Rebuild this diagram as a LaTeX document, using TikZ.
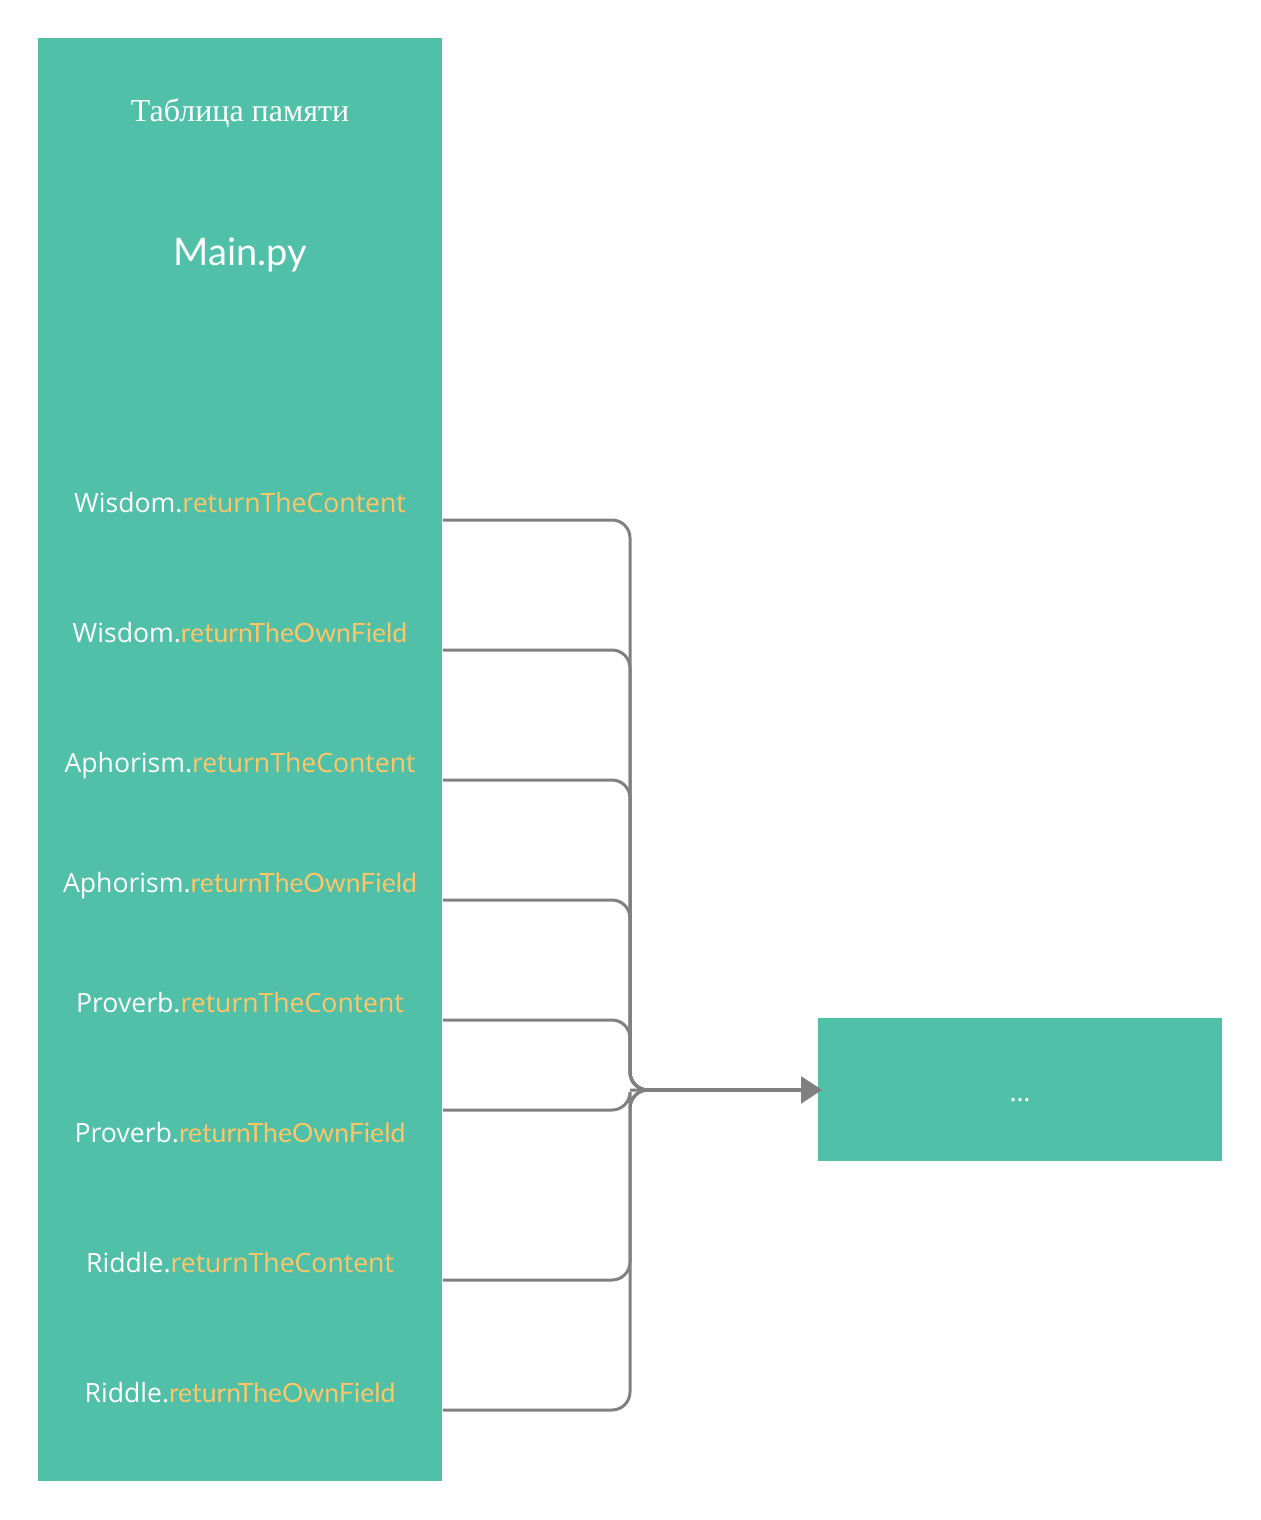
\documentclass[tikz,border=0pt]{standalone}
\usepackage{fontspec}
\setmainfont{Liberation Serif}
\newfontfamily\labelfont{Open Sans}
\newfontfamily\pyfont{Lato}
\usetikzlibrary{arrows.meta}

\definecolor{boxteal}{HTML}{50C0A8}
\definecolor{fnorange}{HTML}{FFC566}
\definecolor{linegray}{HTML}{808080}

\tikzstyle{block} = [fill=boxteal,draw=none,inner sep=0pt,minimum width=202pt]
\tikzstyle{title} = [text=white,font=\fontsize{16}{19}\selectfont]
\tikzstyle{file} = [text=white,font=\pyfont\fontsize{19}{23}\selectfont]
\tikzstyle{call} = [text=white,font=\labelfont\fontsize{13.3}{16}\selectfont,anchor=base]
\tikzstyle{branch} = [draw=linegray,line width=1.5pt,rounded corners=9pt]
\tikzstyle{arrowdecorate} = [draw=linegray,line width=1.5pt,-{Triangle[length=10.5pt,width=13.5pt]},shorten >=-2pt]

\begin{document}
\begin{tikzpicture}[x=0.5pt,y=-0.5pt]
  \useasboundingbox (0,0) rectangle (1261,1520);
  %% boxes
  \node[block, minimum height=721.5pt, anchor=north west] (main) at (38,38) {};
  \node[block, minimum height=71.5pt, anchor=north west] (res) at (818,1018) {};
  \node[title, anchor=base] (memtitle) at (240,122) {Таблица памяти};
  \node[file, anchor=base] (mainpy) at (240,265) {Main.py};
  \node[call] (dots) at (1020,1101) {\ldots};

  % calls and their branches
  \coordinate (junction) at (630,1090);
  \foreach \cls/\fn/\fnfont/\ly/\wy/\nm in {
    Wisdom/returnTheContent/\labelfont/512/520/wc,
    Wisdom/returnTheOwnField/\pyfont/642/650/wo,
    Aphorism/returnTheContent/\labelfont/772/780/ac,
    Aphorism/returnTheOwnField/\pyfont/892/900/ao,
    Proverb/returnTheContent/\labelfont/1012/1020/pc,
    Proverb/returnTheOwnField/\pyfont/1142/1110/po,
    Riddle/returnTheContent/\labelfont/1272/1280/rc,
    Riddle/returnTheOwnField/\pyfont/1402/1410/ro}
  {
    \node[call] (\nm) at (240,\ly) {\cls.\textcolor{fnorange}{\fnfont\fn}};
    \coordinate (\nm out) at (main.east |- 0,\wy);
    \path[branch] (\nm out) -| (junction) -- (res.west);
  }
  \draw[arrowdecorate] (junction) -- (res.west);
\end{tikzpicture}
\end{document}
